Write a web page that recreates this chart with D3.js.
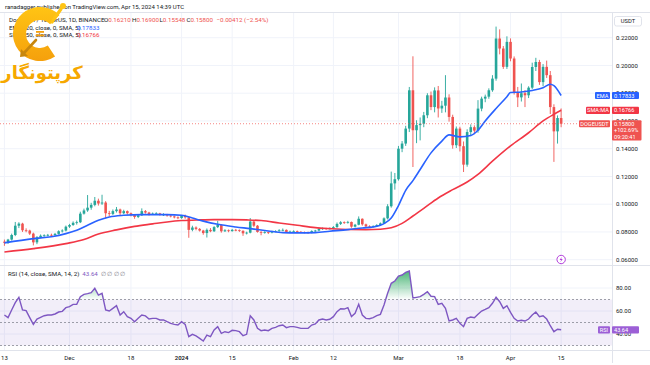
<!DOCTYPE html>
<html>
<head>
<meta charset="utf-8">
<script src="https://cdn.jsdelivr.net/npm/d3@7"></script>
<style>
  html, body { margin: 0; padding: 0; background: #fff; }
  svg { display: block; font-family: Roboto, "Noto Sans", sans-serif; }
</style>
</head>
<body>
<svg id="chart" width="650" height="365"></svg>
<script>
// DOGE/USDT daily candles, one per day starting at firstDay
const firstDay = "2023-11-13";

const opens = [
  .0730,.0722,.0745,.0778,.0845,.0860,.0812,.0810,.0788,.0725,
  .0762,.0773,.0776,.0779,.0777,.0786,.0805,.0810,.0838,.0850,
  .0866,.0870,.0932,.0955,.0975,.0995,.1025,.1005,.1012,.0935,
  .0930,.0950,.0962,.0935,.0950,.0935,.0922,.0908,.0920,.0950,
  .0940,.0928,.0932,.0934,.0925,.0926,.0918,.0912,.0905,.0900,
  .0915,.0905,.0815,.0832,.0822,.0810,.0792,.0815,.0805,.0835,
  .0850,.0805,.0812,.0806,.0815,.0813,.0808,.0790,.0795,.0875,
  .0845,.0800,.0795,.0798,.0795,.0803,.0807,.0812,.0815,.0800,
  .0803,.0805,.0801,.0798,.0797,.0795,.0806,.0810,.0822,.0826,
  .0823,.0826,.0835,.0858,.0870,.0868,.0872,.0838,.0852,.0895,
  .0855,.0840,.0838,.0842,.0850,.0862,.0898,.0985,.1150,.1180,
  .1400,.1437,.1545,.1821,.1533,.1570,.1580,.1641,.1785,.1700,
  .1820,.1690,.1710,.1769,.1629,.1425,.1545,.1418,.1285,.1520,
  .1555,.1530,.1689,.1761,.1775,.1821,.1905,.2194,.2122,.1990,
  .2170,.2050,.1809,.1770,.1800,.1785,.1840,.1989,.2025,.1880,
  .1990,.1930,.1700,.1525,.1621
];
const highs = [
  .0745,.0750,.0788,.0872,.0870,.0866,.0826,.0816,.0795,.0770,
  .0782,.0783,.0786,.0788,.0793,.0812,.0819,.0846,.0858,.0876,
  .0882,.0946,.0968,.1066,.1010,.1052,.1040,.1068,.1022,.0952,
  .0962,.0980,.0968,.0960,.0955,.0940,.0928,.0928,.0970,.0958,
  .0945,.0940,.0942,.0938,.0935,.0930,.0924,.0918,.0912,.0922,
  .0925,.0912,.0845,.0840,.0828,.0815,.0825,.0828,.0842,.0880,
  .0855,.0820,.0818,.0822,.0822,.0818,.0812,.0802,.0900,.0885,
  .0850,.0806,.0805,.0802,.0808,.0812,.0820,.0825,.0818,.0810,
  .0812,.0810,.0806,.0803,.0802,.0812,.0815,.0828,.0832,.0830,
  .0832,.0842,.0868,.0878,.0876,.0880,.0875,.0858,.0912,.0898,
  .0860,.0848,.0848,.0856,.0868,.0905,.1000,.1235,.1225,.1420,
  .1455,.1565,.1845,.2066,.1605,.1625,.1665,.1800,.1812,.1842,
  .1852,.1745,.1930,.1792,.1645,.1560,.1558,.1452,.1540,.1575,
  .1568,.1750,.1775,.1790,.1835,.1930,.2280,.2260,.2140,.2210,
  .2195,.2065,.1845,.1870,.1822,.1850,.2020,.2055,.2040,.2010,
  .2035,.1960,.1720,.1640,.1690
];
const lows = [
  .0700,.0714,.0738,.0770,.0828,.0800,.0798,.0778,.0703,.0712,
  .0755,.0765,.0768,.0769,.0772,.0781,.0796,.0804,.0829,.0844,
  .0853,.0864,.0925,.0945,.0960,.0985,.0990,.0995,.0898,.0912,
  .0922,.0940,.0922,.0928,.0925,.0912,.0895,.0900,.0915,.0932,
  .0918,.0922,.0925,.0918,.0915,.0910,.0905,.0898,.0892,.0895,
  .0895,.0758,.0805,.0812,.0803,.0780,.0760,.0798,.0800,.0828,
  .0795,.0800,.0798,.0802,.0805,.0800,.0772,.0782,.0790,.0835,
  .0795,.0776,.0788,.0785,.0790,.0798,.0802,.0806,.0795,.0794,
  .0796,.0795,.0792,.0790,.0787,.0790,.0800,.0806,.0815,.0815,
  .0818,.0820,.0830,.0850,.0858,.0860,.0830,.0832,.0848,.0845,
  .0832,.0830,.0832,.0838,.0845,.0858,.0890,.0975,.1105,.1170,
  .1375,.1420,.1520,.1268,.1440,.1460,.1555,.1620,.1678,.1662,
  .1625,.1658,.1662,.1595,.1400,.1405,.1380,.1232,.1270,.1490,
  .1505,.1515,.1670,.1735,.1760,.1810,.1890,.2080,.1975,.1975,
  .2030,.1790,.1700,.1740,.1700,.1765,.1830,.1960,.1860,.1850,
  .1910,.1650,.1305,.1437,.15548
];
const closes = [
  .0722,.0745,.0778,.0845,.0860,.0812,.0810,.0788,.0725,.0762,
  .0773,.0776,.0779,.0777,.0786,.0805,.0810,.0838,.0850,.0866,
  .0870,.0932,.0955,.0975,.0995,.1025,.1005,.1012,.0935,.0930,
  .0950,.0962,.0935,.0950,.0935,.0922,.0908,.0920,.0950,.0940,
  .0928,.0932,.0934,.0925,.0926,.0918,.0912,.0905,.0900,.0915,
  .0905,.0815,.0832,.0822,.0810,.0792,.0815,.0805,.0835,.0850,
  .0805,.0812,.0806,.0815,.0813,.0808,.0790,.0795,.0875,.0845,
  .0800,.0795,.0798,.0795,.0803,.0807,.0812,.0815,.0800,.0803,
  .0805,.0801,.0798,.0797,.0795,.0806,.0810,.0822,.0826,.0823,
  .0826,.0835,.0858,.0870,.0868,.0872,.0838,.0852,.0895,.0855,
  .0840,.0838,.0842,.0850,.0862,.0898,.0985,.1150,.1180,.1400,
  .1437,.1545,.1821,.1533,.1570,.1580,.1641,.1785,.1700,.1820,
  .1690,.1710,.1769,.1629,.1425,.1545,.1418,.1285,.1520,.1555,
  .1530,.1689,.1761,.1775,.1821,.1905,.2194,.2122,.1990,.2170,
  .2050,.1809,.1770,.1800,.1785,.1840,.1989,.2025,.1880,.1990,
  .1930,.1700,.1525,.1621,.1580
];

// RSI(14), same days as the candles
const rsiValues = [
  56.5,54.2,60.9,67.2,71.9,60.9,60.3,54.2,48.4,53.0,
  54.5,55.9,56.5,56.5,57.4,59.1,59.7,62.9,63.8,65.8,
  65.8,72.5,74.5,75.1,75.9,79.7,73.9,75.4,60.9,60.0,
  62.3,64.6,56.5,59.4,55.1,53.6,50.7,53.6,56.5,55.7,
  53.0,53.6,53.6,52.2,52.2,50.7,49.3,48.4,47.8,50.7,
  48.4,37.7,39.7,38.3,36.2,33.9,39.1,37.7,43.5,46.4,
  40.6,42.0,41.2,43.2,42.9,42.0,38.6,39.7,55.9,52.2,
  44.9,42.9,43.5,42.9,44.9,45.8,47.2,47.8,45.5,46.4,
  46.4,45.8,44.9,44.9,44.9,47.8,48.7,52.2,53.0,52.2,
  52.8,55.1,59.4,62.0,61.7,62.9,55.1,58.0,65.8,56.5,
  53.6,53.3,54.2,55.9,57.1,65.2,75.4,84.1,86.1,90.4,
  91.3,93.6,94.8,71.3,71.9,72.5,74.5,76.8,72.8,72.5,
  65.8,66.7,62.3,51.3,52.2,53.6,49.3,46.4,53.6,54.8,
  54.2,57.1,60.0,61.4,62.9,66.7,71.9,68.1,62.3,64.6,
  58.8,53.6,51.3,51.9,51.3,53.0,56.5,59.1,55.1,55.9,
  53.0,47.2,42.0,44.1,43.64
];

// EMA line
const emaDates = ["2023-11-13","2023-11-21","2023-11-26","2023-11-30","2023-12-03","2023-12-06","2023-12-09",
  "2023-12-12","2023-12-16","2023-12-21","2023-12-28","2024-01-01","2024-01-04","2024-01-07","2024-01-11",
  "2024-01-16","2024-01-20","2024-01-25","2024-01-29","2024-02-02","2024-02-07","2024-02-11","2024-02-16",
  "2024-02-20","2024-02-23","2024-02-26","2024-02-28","2024-03-01","2024-03-03","2024-03-05","2024-03-07",
  "2024-03-10","2024-03-13","2024-03-15","2024-03-18","2024-03-21","2024-03-23","2024-03-25","2024-03-28",
  "2024-03-31","2024-04-01","2024-04-04","2024-04-07","2024-04-10","2024-04-12","2024-04-13","2024-04-15"];
const emaValues = [0.0721,0.0752,0.0766,0.0788,0.0812,0.0848,0.0884,0.0908,0.0920,0.0925,0.0925,0.0920,
  0.0900,0.0878,0.0855,0.0836,0.0824,0.0807,0.0795,0.0793,0.0795,0.0805,0.0817,0.0829,0.0836,0.0860,
  0.0900,0.0990,0.1100,0.1170,0.1250,0.1370,0.1455,0.1500,0.1485,0.1495,0.1533,0.1600,0.1690,0.1775,
  0.1805,0.1809,0.1820,0.1840,0.1865,0.1855,0.17833];

// SMA line
const smaDates = ["2023-11-13","2023-11-21","2023-11-30","2023-12-05","2023-12-09","2023-12-14","2023-12-19",
  "2023-12-24","2023-12-28","2024-01-01","2024-01-06","2024-01-10","2024-01-15","2024-01-19","2024-01-23",
  "2024-01-28","2024-02-02","2024-02-07","2024-02-11","2024-02-16","2024-02-21","2024-02-25","2024-02-28",
  "2024-03-02","2024-03-05","2024-03-08","2024-03-12","2024-03-16","2024-03-20","2024-03-23","2024-03-27",
  "2024-04-01","2024-04-06","2024-04-10","2024-04-13","2024-04-15"];
const smaValues = [0.0656,0.0680,0.0716,0.0745,0.0785,0.0815,0.0840,0.0858,0.0872,0.0882,0.0887,0.0889,
  0.0889,0.0887,0.0882,0.0865,0.0848,0.0831,0.0824,0.0818,0.0817,0.0820,0.0830,0.0862,0.0915,0.0970,
  0.1045,0.1105,0.1160,0.1215,0.1310,0.1420,0.1515,0.1600,0.1648,0.16766];

const priceTicks = [0.06, 0.08, 0.10, 0.12, 0.14, 0.16, 0.18, 0.20, 0.22];
const rsiTicks = [80, 60, 40];
const rsiLevels = [70, 50, 30];
const dateTicks = ["2023-11-13","2023-12-01","2023-12-18","2024-01-01","2024-01-15","2024-02-01",
  "2024-02-12","2024-03-01","2024-03-18","2024-04-01","2024-04-15"];
const dateLabels = ["13","Dec","18","2024","15","Feb","12","Mar","18","Apr","15"];

const UP = "#26a69a", DOWN = "#ef5350", EMA_C = "#2962ff", SMA_C = "#f23645", RSI_C = "#7e57c2";
const TXT = "#131722", LINE = "#e0e3eb", GRID = "#f0f3fa";

const svg = d3.select("#chart");
const plotW = 612;
const priceTop = 13, priceBottom = 265, rsiTop = 266, rsiBottom = 350;

const candles = closes.map((c, i) => ({
  date: d3.utcDay.offset(new Date(firstDay), i),
  o: opens[i], h: highs[i], l: lows[i], c: c, rsi: rsiValues[i]
}));
const ema = emaDates.map((d, i) => ({ date: new Date(d), v: emaValues[i] }));
const sma = smaDates.map((d, i) => ({ date: new Date(d), v: smaValues[i] }));

const x = d3.scaleUtc()
  .domain([new Date("2023-11-11T18:36:00Z"), new Date("2024-04-29T01:40:00Z")])
  .range([0, plotW]);
const y = d3.scaleLinear().domain([0.06, 0.22]).range([259.7, 37.7]);
const yR = d3.scaleLinear().domain([30, 70]).range([345.5, 299.5]);

svg.append("rect").attr("width", 650).attr("height", 365).attr("fill", "#fff");

const defs = svg.append("defs");
defs.append("clipPath").attr("id", "clipPrice").append("rect")
  .attr("x", 0).attr("y", priceTop).attr("width", plotW).attr("height", priceBottom - priceTop);
defs.append("clipPath").attr("id", "clipRsi").append("rect")
  .attr("x", 0).attr("y", rsiTop).attr("width", plotW).attr("height", rsiBottom - rsiTop);
const ob = defs.append("linearGradient").attr("id", "obFill")
  .attr("gradientUnits", "userSpaceOnUse")
  .attr("x1", 0).attr("x2", 0).attr("y1", yR(100)).attr("y2", yR(70));
ob.append("stop").attr("offset", "0%").attr("stop-color", "#26a65b").attr("stop-opacity", 1);
ob.append("stop").attr("offset", "100%").attr("stop-color", "#26a65b").attr("stop-opacity", 0);
const gold = defs.append("linearGradient").attr("id", "gold")
  .attr("x1", 0).attr("x2", 0).attr("y1", 0).attr("y2", 1);
gold.append("stop").attr("offset", "0%").attr("stop-color", "#ffc414");
gold.append("stop").attr("offset", "100%").attr("stop-color", "#f5a00c");

// grid
const grid = svg.append("g");
grid.selectAll(".hgrid").data(priceTicks).join("line")
  .attr("x1", 0).attr("x2", plotW)
  .attr("y1", d => y(d)).attr("y2", d => y(d))
  .attr("stroke", GRID);
grid.selectAll(".rgrid").data(rsiTicks).join("line")
  .attr("x1", 0).attr("x2", plotW)
  .attr("y1", d => yR(d)).attr("y2", d => yR(d))
  .attr("stroke", GRID);
grid.selectAll(".vgrid").data(dateTicks).join("line")
  .attr("x1", d => x(new Date(d))).attr("x2", d => x(new Date(d)))
  .attr("y1", priceTop).attr("y2", rsiBottom)
  .attr("stroke", GRID);

// frame lines
svg.append("line").attr("x1", 0).attr("x2", 650).attr("y1", 12.5).attr("y2", 12.5).attr("stroke", LINE);
svg.append("line").attr("x1", 0).attr("x2", 650).attr("y1", 265.5).attr("y2", 265.5).attr("stroke", LINE);
svg.append("line").attr("x1", 0).attr("x2", 650).attr("y1", 350.5).attr("y2", 350.5).attr("stroke", LINE);
svg.append("line").attr("x1", plotW + 0.5).attr("x2", plotW + 0.5).attr("y1", 12.5).attr("y2", 363).attr("stroke", LINE);

// price panel
const pricePanel = svg.append("g").attr("clip-path", "url(#clipPrice)");

const bars = pricePanel.selectAll(".candle").data(candles).join("g")
  .attr("fill", d => d.c >= d.o ? UP : DOWN)
  .attr("stroke", d => d.c >= d.o ? UP : DOWN);
bars.append("line")
  .attr("x1", d => x(d.date)).attr("x2", d => x(d.date))
  .attr("y1", d => y(d.h)).attr("y2", d => y(d.l))
  .attr("stroke-width", 0.9);
bars.append("rect")
  .attr("x", d => x(d.date) - 1.3).attr("width", 2.6)
  .attr("y", d => y(Math.max(d.o, d.c)))
  .attr("height", d => Math.max(0.8, Math.abs(y(d.o) - y(d.c))))
  .attr("stroke", "none");

const maLine = d3.line().x(d => x(d.date)).y(d => y(d.v)).curve(d3.curveMonotoneX);
pricePanel.append("path").datum(sma).attr("d", maLine)
  .attr("fill", "none").attr("stroke", SMA_C).attr("stroke-width", 1.6);
pricePanel.append("path").datum(ema).attr("d", maLine)
  .attr("fill", "none").attr("stroke", EMA_C).attr("stroke-width", 1.6);

const last = candles[candles.length - 1];
pricePanel.append("line")
  .attr("x1", 0).attr("x2", plotW).attr("y1", y(last.c)).attr("y2", y(last.c))
  .attr("stroke", DOWN).attr("stroke-opacity", 0.7).attr("stroke-dasharray", "1,2");

// event icon
const ev = svg.append("g").attr("transform", `translate(${x(new Date("2024-04-15"))},259.5)`);
ev.append("circle").attr("r", 4.2).attr("fill", "#fff").attr("stroke", "#b23ddb").attr("stroke-width", 1);
ev.append("path").attr("d", "M0.8,-2.8 L-1.6,0.4 L0,0.4 L-0.8,2.8 L1.6,-0.6 L0,-0.6 Z").attr("fill", "#b23ddb");

// rsi panel
const rsiPanel = svg.append("g").attr("clip-path", "url(#clipRsi)");
rsiPanel.append("rect")
  .attr("x", 0).attr("width", plotW)
  .attr("y", yR(70)).attr("height", yR(30) - yR(70))
  .attr("fill", RSI_C).attr("fill-opacity", 0.1);
rsiPanel.selectAll(".lvl").data(rsiLevels).join("line")
  .attr("x1", 0).attr("x2", plotW)
  .attr("y1", d => yR(d)).attr("y2", d => yR(d))
  .attr("stroke", "#787b86").attr("stroke-opacity", 0.7).attr("stroke-dasharray", "2,2");
rsiPanel.append("path").datum(candles)
  .attr("d", d3.area().x(d => x(d.date)).y0(yR(70)).y1(d => yR(Math.max(70, d.rsi))))
  .attr("fill", "url(#obFill)");
rsiPanel.append("path").datum(candles)
  .attr("d", d3.line().x(d => x(d.date)).y(d => yR(d.rsi)))
  .attr("fill", "none").attr("stroke", RSI_C).attr("stroke-width", 1.4);

// right axis labels
const axisR = svg.append("g").attr("font-size", 6).attr("fill", TXT);
axisR.selectAll(".pl").data(priceTicks).join("text")
  .attr("x", 616).attr("y", d => y(d)).attr("dy", "0.35em")
  .text(d => d3.format(".5f")(d));
axisR.selectAll(".rl").data(rsiTicks).join("text")
  .attr("x", 616).attr("y", d => yR(d)).attr("dy", "0.35em")
  .text(d => d3.format(".2f")(d));

// bottom date labels
svg.append("g").attr("font-size", 6).attr("fill", TXT).attr("text-anchor", "middle")
  .selectAll("text").data(dateTicks).join("text")
  .attr("x", d => x(new Date(d))).attr("y", 359.5)
  .attr("font-weight", (d, i) => dateLabels[i] === "2024" ? 600 : 400)
  .text((d, i) => dateLabels[i]);

// USDT box
svg.append("rect").attr("x", 614.5).attr("y", 16.5).attr("width", 27).attr("height", 9.5)
  .attr("rx", 2).attr("fill", "#fff").attr("stroke", LINE);
svg.append("text").attr("x", 628).attr("y", 23.3).attr("text-anchor", "middle")
  .attr("font-size", 5.8).attr("fill", TXT).text("USDT");

// price tags on the right
function tag(yc, label, labelW, value, color, extra) {
  const g = svg.append("g").attr("font-size", 5.6).attr("fill", "#fff");
  g.append("rect").attr("x", 610 - labelW).attr("y", yc - 3.6).attr("width", labelW).attr("height", 7.2)
    .attr("rx", 1).attr("fill", color);
  g.append("text").attr("x", 610 - labelW / 2).attr("y", yc + 2).attr("text-anchor", "middle").text(label);
  const h = extra ? 7.2 + extra.length * 6.6 : 7.2;
  g.append("rect").attr("x", 612).attr("y", yc - 3.6).attr("width", extra ? 29.5 : 27).attr("height", h)
    .attr("rx", 1).attr("fill", color);
  g.append("text").attr("x", 614).attr("y", yc + 2).text(value);
  (extra || []).forEach((t, i) => g.append("text").attr("x", 614).attr("y", yc + 2 + (i + 1) * 6.6).text(t));
}
tag(y(emaValues[emaValues.length - 1]), "EMA", 15, "0.17833", EMA_C);
tag(y(smaValues[smaValues.length - 1]), "SMA:MA", 24, "0.16766", SMA_C);
tag(y(last.c), "DOGEUSDT", 31, "0.15800", DOWN, ["+102.69%", "09:20:41"]);
tag(yR(last.rsi), "RSI", 12, "43.64", "#9c5fd6");

// legends
const legend = svg.append("g").attr("font-size", 6.2).attr("fill", TXT);
legend.append("text").attr("x", 5).attr("y", 8.8).attr("font-size", 6)
  .text("ranadagger published on TradingView.com, Apr 15, 2024 14:39 UTC");
const l1 = legend.append("text").attr("x", 9).attr("y", 22);
l1.append("tspan").text("Dogecoin / TetherUS, 1D, BINANCE");
[["O", "0.16210", 104], ["H", "0.16900", 132], ["L", "0.15548", 159.5], ["C", "0.15800", 186.5]].forEach(([k, v, px]) => {
  l1.append("tspan").attr("x", px).text(k);
  l1.append("tspan").attr("fill", DOWN).text(v);
});
l1.append("tspan").attr("x", 216.5).attr("fill", DOWN).text("\u22120.00412 (\u22122.54%)");
const l2 = legend.append("text").attr("x", 9).attr("y", 29.7);
l2.append("tspan").text("EMA (20, close, 0, SMA, 5)");
l2.append("tspan").attr("x", 77).attr("fill", EMA_C).text("0.17833");
const l3 = legend.append("text").attr("x", 9).attr("y", 37.2);
l3.append("tspan").text("SMA (50, close, 0, SMA, 5)");
l3.append("tspan").attr("x", 77).attr("fill", SMA_C).text("0.16766");
const l4 = legend.append("text").attr("x", 8).attr("y", 275.5);
l4.append("tspan").text("RSI (14, close, SMA, 14, 2)");
l4.append("tspan").attr("dx", 3).attr("fill", RSI_C).text("43.64");
l4.append("tspan").attr("dx", 3).attr("fill", "#787b86").text("\u2205 \u2205 \u2205 \u2205");

// watermark logo
const logo = svg.append("g").attr("transform", "translate(40,34)");
logo.append("path")
  .attr("d", d3.arc()({ innerRadius: 14, outerRadius: 27, startAngle: 2.55, endAngle: 2 * Math.PI + 0.8 }))
  .attr("fill", "url(#gold)");
logo.append("line").attr("x1", 12).attr("y1", -12).attr("x2", 21).attr("y2", -25)
  .attr("stroke", "#ffc414").attr("stroke-width", 3.2).attr("stroke-linecap", "round");
logo.append("circle").attr("cx", 23).attr("cy", -28).attr("r", 3).attr("fill", "#ffc414");
logo.append("line").attr("x1", -4).attr("y1", 6).attr("x2", -16).attr("y2", 19)
  .attr("stroke", "#c8870e").attr("stroke-width", 2.6).attr("stroke-linecap", "round");
logo.append("path").attr("d", "M-20,23 L-19,15 L-12,22 Z").attr("fill", "#c8870e");
logo.append("rect").attr("x", -4).attr("y", -3).attr("width", 8).attr("height", 1.8).attr("fill", "#f5a00c");
logo.append("rect").attr("x", -4).attr("y", 0.5).attr("width", 8).attr("height", 1.8).attr("fill", "#f5a00c");
svg.append("text").attr("x", 42).attr("y", 79).attr("text-anchor", "middle")
  .attr("font-family", "'DejaVu Sans', sans-serif").attr("font-weight", "bold")
  .attr("font-size", 18).attr("fill", "#f6a800").text("کرپتونگار");
</script>
</body>
</html>
